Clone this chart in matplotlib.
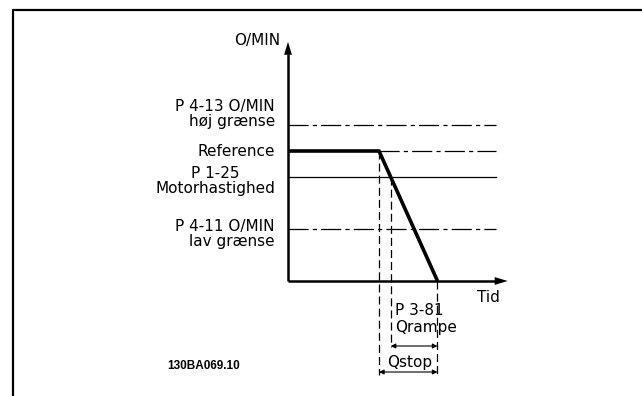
import matplotlib
matplotlib.use("Agg")
import matplotlib.pyplot as plt
from matplotlib.lines import Line2D
import numpy as np

# speed levels (arbitrary units) and time points of the stop sequence
level_names = ["high", "reference", "motor", "low"]
levels = {"high": 6.0, "reference": 5.0, "motor": 4.0, "low": 2.0}
t_ramp_start = 3.5   # reference removed, ramp down begins
t_stop = 5.75        # motor reaches zero speed
t_end = 8.0          # right end of the level lines

labels = {
    "high": "P 4-13 O/MIN\nhøj grænse",
    "reference": "Reference",
    "motor": "P 1-25\nMotorhastighed",
    "low": "P 4-11 O/MIN\nlav grænse",
}
label_offset = {"high": 0.42, "reference": 0.0, "motor": -0.15, "low": -0.21}
label_align = {"high": "right", "reference": "right", "motor": "center", "low": "right"}

INK = "black"
plt.rcParams["font.family"] = "DejaVu Sans"
plt.rcParams["lines.scale_dashes"] = False

W, H = 642, 396
fig = plt.figure(figsize=(W / 100, H / 100), dpi=100)
ax = fig.add_axes([0, 0, 1, 1])
ax.set_axis_off()

# one data unit = 26 px, origin of the diagram at pixel (288, 281)
U = 26.0
x0, y0 = 288, 281
ax.set_xlim(-x0 / U, (W - x0) / U)
ax.set_ylim(-(H - y0) / U, y0 / U)

# page frame (left and top edges)
fig.add_artist(Line2D([12.5 / W, 12.5 / W, 1.0], [0.0, 1 - 10 / H, 1 - 10 / H],
                      transform=fig.transFigure, color=INK, lw=1.6))

# axes with arrow heads
y_top = 9.2
x_right = 8.45
ax.plot([0, 0], [0, y_top - 0.45], color=INK, lw=1.8, solid_capstyle="butt")
ax.plot([0, x_right - 0.4], [0, 0], color=INK, lw=1.8, solid_capstyle="butt")
ax.add_patch(plt.Polygon([[0, y_top], [-0.15, y_top - 0.5], [0.15, y_top - 0.5]],
                         closed=True, color=INK, lw=0))
ax.add_patch(plt.Polygon([[x_right, 0], [x_right - 0.5, 0.15], [x_right - 0.5, -0.15]],
                         closed=True, color=INK, lw=0))
ax.text(-0.3, y_top + 0.05, "O/MIN", ha="right", va="center", fontsize=11, color=INK)
ax.text(7.27, -0.65, "Tid", ha="left", va="center", fontsize=11, color=INK)

dashdot = (0, (14.5, 3.0, 3.0, 3.0))
ax.plot([0, t_end], [levels["high"]] * 2, color=INK, lw=0.9, ls=dashdot)
ax.plot([t_ramp_start, t_end], [levels["reference"]] * 2, color=INK, lw=0.9, ls=dashdot)
ax.plot([0, t_end], [levels["motor"]] * 2, color=INK, lw=0.9)
ax.plot([0, t_end], [levels["low"]] * 2, color=INK, lw=0.9, ls=dashdot)

# actual speed: hold reference, then ramp to zero
ax.plot([0, t_ramp_start, t_stop], [levels["reference"], levels["reference"], 0],
        color=INK, lw=2.6, solid_joinstyle="miter", solid_capstyle="butt")

# time where the ramp passes the motor speed
t_motor = t_ramp_start + (levels["reference"] - levels["motor"]) / levels["reference"] * (t_stop - t_ramp_start)

for name in level_names:
    ax.text(-0.5, levels[name] + label_offset[name], labels[name], ha="right", va="center",
            multialignment=label_align[name], fontsize=11, linespacing=1.0, color=INK)

# helper lines down to the dimension arrows
dashed = (0, (5.8, 2.9))
y_qramp = -2.5
y_qstop = -3.5
y_low_end = -3.62
ax.plot([t_ramp_start, t_ramp_start], [levels["reference"], y_low_end], color=INK, lw=0.9, ls=dashed)
ax.plot([t_motor, t_motor], [levels["motor"], y_qramp - 0.05], color=INK, lw=0.9, ls=dashed)
ax.plot([t_stop, t_stop], [0, y_low_end], color=INK, lw=0.9, ls=dashed)

arrow = dict(arrowstyle="<|-|>", color=INK, lw=0.8, mutation_scale=7, shrinkA=0, shrinkB=0)
ax.annotate("", xy=(t_motor, y_qramp), xytext=(t_stop, y_qramp), arrowprops=arrow)
ax.annotate("", xy=(t_ramp_start, y_qstop), xytext=(t_stop, y_qstop), arrowprops=arrow)

ax.text(t_motor + 0.17, -1.12, "P 3-81", ha="left", va="center", fontsize=11, color=INK)
ax.text(t_motor + 0.17, -1.78, "Qrampe", ha="left", va="center", fontsize=11, color=INK)
ax.text((t_ramp_start + t_stop) / 2 + 0.05, -3.12, "Qstop", ha="center", va="center", fontsize=11, color=INK)

fig.text(167 / W, 1 - 366 / H, "130BA069.10", ha="left", va="center", fontsize=8.5,
         fontweight="bold", family="Liberation Sans", color=INK)

fig.savefig("out.png", dpi=100, facecolor="white")
